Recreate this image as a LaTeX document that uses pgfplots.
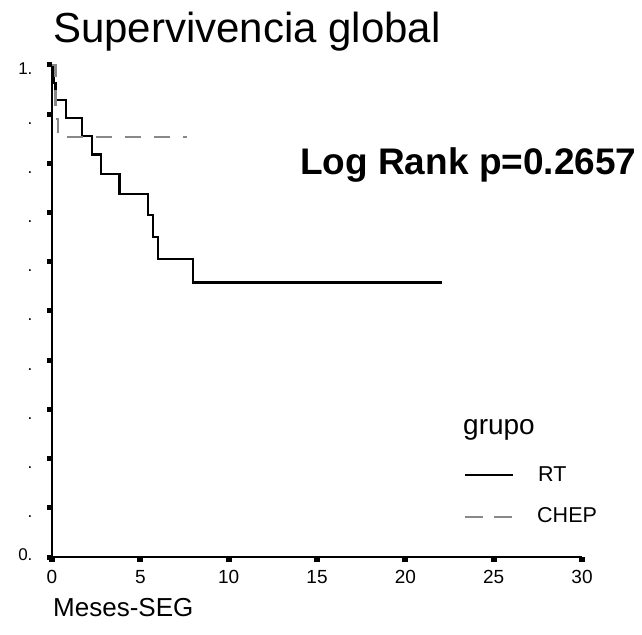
\documentclass[border=0pt]{standalone}
\usepackage{fontspec}
\setmainfont{Liberation Sans}
\usepackage{pgfplots}
\pgfplotsset{compat=1.18}
\definecolor{chepgray}{RGB}{136,136,136}

\begin{document}
\begin{tikzpicture}[x=1pt,y=1pt]
\path[use as bounding box] (0,0) rectangle (642,634);
\begin{axis}[
  at={(52pt,77pt)}, anchor=south west,
  scale only axis, width=530pt, height=492pt,
  xmin=0, xmax=30, ymin=0, ymax=1,
  axis x line=bottom, axis y line=left,
  axis line style={-, line width=2.2pt},
  xtick={0,5,10,15,20,25,30},
  ytick={0,0.1,0.2,0.3,0.4,0.5,0.6,0.7,0.8,0.9,1},
  yticklabels={\raisebox{7pt}{0.},.,.,.,.,.,.,.,.,.,1.},
  tick align=outside, major tick length=5pt,
  xtick style={line width=6pt, black},
  ytick style={line width=5pt, black},
  xticklabel style={font=\fontsize{19}{19}\selectfont, yshift=-5pt},
  yticklabel style={font=\fontsize{17}{17}\selectfont, anchor=base east, xshift=-11pt, yshift=-10pt},
  /pgf/number format/assume math mode=true,
]
% RT
\addplot[const plot, black, line width=2.1pt] coordinates {
  (0,1) (0.1,0.963) (0.2,0.929) (0.78,0.893) (1.69,0.856) (2.26,0.818)
  (2.78,0.778) (3.82,0.738) (5.41,0.695) (5.70,0.650) (5.98,0.605)
  (7.99,0.558) (22.1,0.558)
};
% CHEP
\addplot[const plot, chepgray, line width=2.1pt, dash pattern=on 16pt off 13pt] coordinates {
  (0,1) (0.2,0.89) (0.35,0.853) (7.65,0.853)
};
\end{axis}
\node[anchor=base west, inner sep=0, font=\fontsize{42}{46}\selectfont] at (53,591) {Supervivencia global};
\node[anchor=base west, inner sep=0, font=\bfseries\fontsize{37}{40}\selectfont] at (300,459) {Log Rank p=0.2657};
\node[anchor=base west, inner sep=0, font=\fontsize{26}{28}\selectfont] at (53,17) {Meses-SEG};
% legend
\node[anchor=base west, inner sep=0, font=\fontsize{28}{30}\selectfont] at (463,199) {grupo};
\draw[black, line width=2pt] (465,159) -- (513,159);
\node[anchor=base west, inner sep=0, font=\fontsize{21.5}{23}\selectfont] at (538,152) {RT};
\draw[chepgray, line width=2pt, dash pattern=on 18pt off 11pt] (465,117) -- (513,117);
\node[anchor=base west, inner sep=0, font=\fontsize{21.5}{23}\selectfont] at (537,111) {CHEP};
\end{tikzpicture}
\end{document}
